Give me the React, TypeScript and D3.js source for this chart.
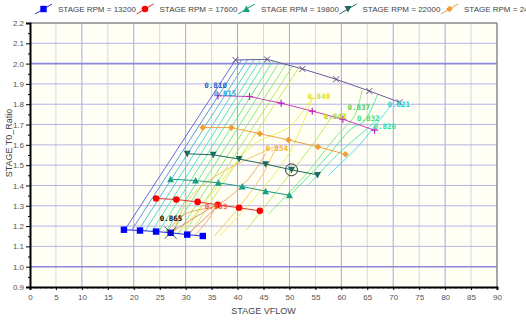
import React, { useEffect, useRef } from 'react';
import * as d3 from 'd3';

// speed lines (STAGE VFLOW, STAGE T0_Ratio)
const rpm13200X = [18.1, 21.2, 24.3, 27.1, 30.3, 33.3];
const rpm13200Y = [1.182, 1.178, 1.173, 1.167, 1.158, 1.151];
const rpm17600X = [24.3, 28.2, 32.3, 36.2, 40.3, 44.3];
const rpm17600Y = [1.336, 1.331, 1.319, 1.305, 1.290, 1.275];
const rpm19800X = [27.1, 31.9, 36.3, 40.9, 45.4, 50.0];
const rpm19800Y = [1.431, 1.424, 1.413, 1.395, 1.372, 1.352];
const rpm22000X = [30.3, 35.3, 40.3, 45.4, 50.4, 55.4];
const rpm22000Y = [1.556, 1.551, 1.530, 1.505, 1.477, 1.452];
const rpm24200X = [33.3, 38.8, 44.3, 49.8, 55.5, 60.8];
const rpm24200Y = [1.685, 1.685, 1.655, 1.624, 1.590, 1.554];
const rpm26400X = [36.2, 42.3, 48.4, 54.4, 60.3, 66.4];
const rpm26400Y = [1.842, 1.838, 1.805, 1.766, 1.726, 1.672];
const rpm28600X = [39.6, 45.7, 52.5, 59.0, 65.4, 71.2];
const rpm28600Y = [2.018, 2.021, 1.974, 1.923, 1.865, 1.810];

// only the first five entries fit in the legend row
const rpmLabels = ['13200', '17600', '19800', '22000', '24200'];

// efficiency contour lines, surge side fan (bottom -> top)
const fanBottomX = [18.3, 19.6, 20.9, 22.2, 23.5, 24.8, 26.1, 27.3, 28.5, 29.6, 30.7];
const fanBottomY = [1.182, 1.180, 1.178, 1.176, 1.174, 1.172, 1.169, 1.167, 1.163, 1.160, 1.157];
const fanTopX = [39.6, 40.8, 42.0, 43.2, 44.4, 45.6, 46.8, 48.0, 49.3, 50.6, 51.8];
const fanTopY = [2.018, 2.020, 2.021, 2.021, 2.021, 2.021, 2.013, 2.005, 1.996, 1.987, 1.979];

// other contour pieces
const contourPieces = [
  { level: 0.848, pts: [[36.5, 1.15], [44, 1.36], [50, 1.56], [54.5, 1.835]] },
  { level: 0.848, pts: [[28.8, 1.165], [35, 1.36], [43, 1.6], [50, 1.69], [54.5, 1.835]] },
  { level: 0.843, pts: [[41.7, 1.18], [49, 1.42], [55, 1.62], [58.3, 1.745]] },
  { level: 0.837, pts: [[46, 1.26], [53, 1.45], [59, 1.64], [62.5, 1.74], [64, 1.87]] },
  { level: 0.832, pts: [[50, 1.35], [56.5, 1.52], [62, 1.68], [64.5, 1.72], [67, 1.85]] },
  { level: 0.826, pts: [[53.5, 1.40], [60, 1.57], [65, 1.68], [67.5, 1.74]] },
  { level: 0.821, pts: [[57.5, 1.45], [63.5, 1.60], [67.3, 1.72], [70.2, 1.813]] },
  { level: 0.854, pts: [[27.6, 1.166], [30.5, 1.33], [36, 1.45], [42, 1.53], [47.5, 1.595]] },
  { level: 0.854, pts: [[47.5, 1.595], [45, 1.46], [40.5, 1.30], [35.5, 1.15]] },
  { level: 0.859, pts: [[26.2, 1.169], [30, 1.26], [36.2, 1.305], [42, 1.43], [45.5, 1.56]] },
  { level: 0.859, pts: [[36.2, 1.305], [34, 1.22], [31.8, 1.154]] },
  { level: 0.865, pts: [[27.1, 1.167], [36.2, 1.305], [30.3, 1.158]] },
];

const labelText = ['0.865', '0.859', '0.854', '0.848', '0.843', '0.837', '0.832', '0.826', '0.821', '0.810', '0.815'];
const labelX = [25.0, 33.7, 45.4, 53.5, 56.6, 61.2, 63.0, 66.2, 68.9, 33.6, 35.4];
const labelY = [1.226, 1.285, 1.570, 1.826, 1.728, 1.770, 1.716, 1.676, 1.787, 1.882, 1.840];
const labelColor = ['#000000', '#f06030', '#f0b020', '#e0e020', '#b0d820', '#50d050', '#40e060', '#20e0a0', '#20d0d0', '#2060d0', '#20a0e0'];

const xTicks = [0, 5, 10, 15, 20, 25, 30, 35, 40, 45, 50, 55, 60, 65, 70, 75, 80, 85, 90];
const yTicks = [0.9, 1.0, 1.1, 1.2, 1.3, 1.4, 1.5, 1.6, 1.7, 1.8, 1.9, 2.0, 2.1, 2.2];

const levelColor = d3.scaleLinear<string>()
  .domain([0.810, 0.821, 0.832, 0.843, 0.848, 0.854, 0.865])
  .range(['#5a60e0', '#40d8f0', '#40e890', '#b8e850', '#ecec50', '#f4c050', '#ec7a60']);

const fanColor = d3.interpolateRgbBasis(['#5058e0', '#40d0f0', '#40e8b0', '#70e860', '#c8e850']);

const W = 526, H = 323;

const App = () => {
  const ref = useRef(null);

  useEffect(() => {
    const svg = d3.select(ref.current);
    svg.selectAll('*').remove();
    const margin = { top: 23, right: 29, bottom: 36, left: 30 };
    const x = d3.scaleLinear().domain([0, 90]).range([margin.left, W - margin.right]);
    const y = d3.scaleLinear().domain([0.9, 2.2]).range([H - margin.bottom, margin.top]);
    const font = 'Liberation Sans, Arial, sans-serif';

    svg.append('rect').attr('width', W).attr('height', H).attr('fill', '#ffffff');
    svg.append('rect')
      .attr('x', x(0)).attr('y', y(2.2))
      .attr('width', x(90) - x(0)).attr('height', y(0.9) - y(2.2))
      .attr('fill', '#fffff6');

    // grid
    xTicks.slice(1, -1).forEach(t => {
      svg.append('line')
        .attr('x1', x(t)).attr('x2', x(t)).attr('y1', y(2.2)).attr('y2', y(0.9))
        .attr('stroke', t % 10 === 0 ? '#aaa2e2' : '#d6d6de').attr('stroke-width', 1);
    });
    yTicks.slice(1, -1).forEach(t => {
      const major = Math.abs(t - 1) < 1e-6 || Math.abs(t - 2) < 1e-6;
      svg.append('line')
        .attr('x1', x(0)).attr('x2', x(90)).attr('y1', y(t)).attr('y2', y(t))
        .attr('stroke', major ? '#8d88dc' : '#b8b2e6').attr('stroke-width', major ? 1.6 : 1);
    });

    // frame
    svg.append('line').attr('x1', x(0)).attr('x2', x(90)).attr('y1', y(2.2)).attr('y2', y(2.2))
      .attr('stroke', '#888').attr('stroke-width', 1.5);
    svg.append('line').attr('x1', x(90)).attr('x2', x(90)).attr('y1', y(2.2)).attr('y2', y(0.9))
      .attr('stroke', '#888').attr('stroke-width', 1.5);

    const line = d3.line<number[]>().x(d => x(d[0])).y(d => y(d[1]));
    const smooth = d3.line<number[]>().x(d => x(d[0])).y(d => y(d[1])).curve(d3.curveCatmullRom);

    // fan contours
    fanBottomX.forEach((bx, i) => {
      svg.append('path')
        .datum([[bx, fanBottomY[i]], [fanTopX[i], fanTopY[i]]])
        .attr('fill', 'none')
        .attr('stroke', fanColor(i / (fanBottomX.length - 1)))
        .attr('stroke-width', 0.9)
        .attr('d', line);
    });
    contourPieces.forEach(c => {
      svg.append('path')
        .datum(c.pts)
        .attr('fill', 'none')
        .attr('stroke', levelColor(c.level))
        .attr('stroke-width', 0.9)
        .attr('d', smooth);
    });

    // speed lines
    const series = [
      { xs: rpm13200X, ys: rpm13200Y, color: '#2a2ae0', fill: '#0000ff', shape: 'square' },
      { xs: rpm17600X, ys: rpm17600Y, color: '#e03030', fill: '#ff0000', shape: 'circle' },
      { xs: rpm19800X, ys: rpm19800Y, color: '#1a9a80', fill: '#1aa080', shape: 'up' },
      { xs: rpm22000X, ys: rpm22000Y, color: '#206860', fill: '#1d6a62', shape: 'down' },
      { xs: rpm24200X, ys: rpm24200Y, color: '#f0a040', fill: '#f0a030', shape: 'diamond' },
      { xs: rpm26400X, ys: rpm26400Y, color: '#d040c0', fill: '#c020c0', shape: 'plus' },
      { xs: rpm28600X, ys: rpm28600Y, color: '#6a5a9a', fill: '#604a8a', shape: 'cross' },
    ];

    const drawMarker = (g, shape, cx, cy, fill) => {
      if (shape === 'square') {
        g.append('rect').attr('x', cx - 3.2).attr('y', cy - 3.2).attr('width', 6.4).attr('height', 6.4).attr('fill', fill);
      } else if (shape === 'circle') {
        g.append('circle').attr('cx', cx).attr('cy', cy).attr('r', 3.3).attr('fill', fill);
      } else if (shape === 'up') {
        g.append('path').attr('d', `M${cx},${cy - 3.5}L${cx + 3.5},${cy + 3}L${cx - 3.5},${cy + 3}Z`).attr('fill', fill);
      } else if (shape === 'down') {
        g.append('path').attr('d', `M${cx},${cy + 3.5}L${cx + 3.5},${cy - 3}L${cx - 3.5},${cy - 3}Z`).attr('fill', fill);
      } else if (shape === 'diamond') {
        g.append('path').attr('d', `M${cx},${cy - 3.3}L${cx + 3.3},${cy}L${cx},${cy + 3.3}L${cx - 3.3},${cy}Z`).attr('fill', fill);
      } else if (shape === 'plus') {
        g.append('path').attr('d', `M${cx - 3.5},${cy}H${cx + 3.5}M${cx},${cy - 3.5}V${cy + 3.5}`).attr('stroke', fill).attr('stroke-width', 1.2);
      } else {
        g.append('path').attr('d', `M${cx - 3},${cy - 3}L${cx + 3},${cy + 3}M${cx - 3},${cy + 3}L${cx + 3},${cy - 3}`).attr('stroke', fill).attr('stroke-width', 1);
      }
    };

    series.forEach(s => {
      const pts = s.xs.map((v, i) => [v, s.ys[i]]);
      svg.append('path').datum(pts).attr('fill', 'none').attr('stroke', s.color).attr('stroke-width', 1).attr('d', line);
      const g = svg.append('g');
      pts.forEach(p => drawMarker(g, s.shape, x(p[0]), y(p[1]), s.fill));
    });

    // design point markers
    const dx = x(rpm13200X[3]), dy = y(rpm13200Y[3]);
    svg.append('path')
      .attr('d', `M${dx - 6},${dy - 6}L${dx + 6},${dy + 6}M${dx - 6},${dy + 6}L${dx + 6},${dy - 6}`)
      .attr('stroke', '#222').attr('stroke-width', 0.8);
    svg.append('circle').attr('cx', x(rpm22000X[4])).attr('cy', y(rpm22000Y[4])).attr('r', 6)
      .attr('fill', 'none').attr('stroke', '#333').attr('stroke-width', 1);

    // contour labels
    labelText.forEach((t, i) => {
      svg.append('text')
        .attr('x', x(labelX[i])).attr('y', y(labelY[i]))
        .attr('fill', labelColor[i])
        .style('font-family', 'DejaVu Sans Mono, monospace')
        .style('font-size', '7.5px').style('font-weight', 'bold')
        .text(t);
    });

    // axes
    const yAxis = svg.append('g').attr('transform', `translate(${x(0)},0)`)
      .call(d3.axisLeft(y).tickValues(yTicks).tickSize(4).tickPadding(2).tickFormat(d3.format('.1f')));
    yAxis.select('.domain').attr('stroke', '#000').attr('stroke-width', 2);
    yAxis.selectAll('text').style('font-family', font).style('font-size', '8px').attr('fill', '#555');
    svg.append('g').attr('transform', `translate(${x(0)},0)`)
      .call(d3.axisLeft(y).tickValues(d3.range(0.95, 2.2, 0.1)).tickSize(2).tickFormat(() => ''))
      .select('.domain').remove();

    const xAxis = svg.append('g').attr('transform', `translate(0,${y(0.9)})`)
      .call(d3.axisBottom(x).tickValues(xTicks).tickSize(3).tickPadding(4).tickFormat(d3.format('d')));
    xAxis.select('.domain').attr('stroke', '#000').attr('stroke-width', 2);
    xAxis.selectAll('text').style('font-family', font).style('font-size', '8px').attr('fill', '#555');
    svg.append('g').attr('transform', `translate(0,${y(0.9)})`)
      .call(d3.axisBottom(x).tickValues(d3.range(0, 91, 1)).tickSize(1.5).tickFormat(() => ''))
      .select('.domain').remove();

    svg.append('text')
      .attr('transform', `translate(12,143) rotate(-90)`)
      .attr('text-anchor', 'middle')
      .style('font-family', font).style('font-size', '9px').attr('fill', '#444')
      .text('STAGE T0_Ratio');
    svg.append('text')
      .attr('x', (x(0) + x(90)) / 2).attr('y', 314)
      .attr('text-anchor', 'middle')
      .style('font-family', font).style('font-size', '9px').attr('fill', '#444')
      .text('STAGE VFLOW');

    // legend
    rpmLabels.forEach((lab, i) => {
      const s = series[i];
      const lx = 35 + i * 101.5;
      const g = svg.append('g');
      g.append('line').attr('x1', lx).attr('y1', 14).attr('x2', lx + 17).attr('y2', 4)
        .attr('stroke', s.color).attr('stroke-width', 1);
      drawMarker(g, s.shape, lx + 8.5, 9, s.fill);
      g.append('text').attr('x', lx + 23).attr('y', 12)
        .style('font-family', font).style('font-size', '8px').attr('fill', '#444')
        .text(`STAGE RPM = ${lab}`);
    });
  }, []);

  return <svg ref={ref} width={W} height={H} style={{ position: 'fixed', left: 0, top: 0 }} />;
};

export default App;
